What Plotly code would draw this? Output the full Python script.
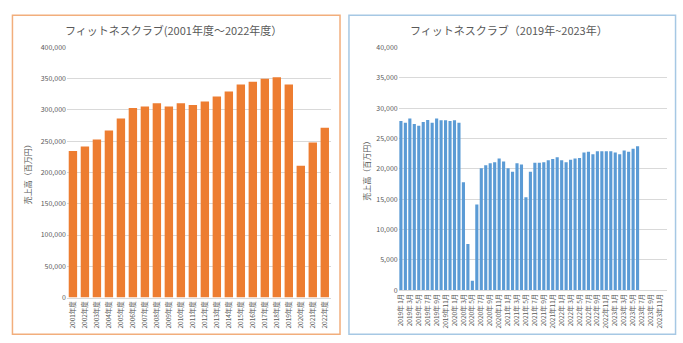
import plotly.graph_objects as go

# Annual sales, fiscal 2001-2022 (million yen)
years = [f"{y}年度" for y in range(2001, 2023)]
annual_sales = [234500, 241700, 252600, 267000, 286200, 303300, 305400, 310600,
                305400, 310600, 308000, 313700, 321400, 329700, 340600, 345200,
                349900, 352500, 340600, 210700, 247900, 271700]

# Monthly sales, Jan 2019 - Dec 2023 (million yen); data available through Jun 2023
months = [f"{y}年{m:>2}月" for y in range(2019, 2024) for m in range(1, 13)]
monthly_sales = [
    27900, 27600, 28300, 27400, 27100, 27700, 28050, 27600, 28300, 28000, 28000, 27900,
    28000, 27600, 17800, 7600, 1550, 14100, 20100, 20600, 20900, 21100, 21700, 21200,
    20100, 19500, 20900, 20700, 15300, 19500, 21000, 21000, 21100, 21400, 21600, 21900,
    21400, 21100, 21500, 21700, 21800, 22700, 22800, 22400, 22900, 22900, 22900, 22900,
    22700, 22400, 23000, 22800, 23300, 23700,
]
month_ticks = months[::2]

TEXT = "#595959"
GRID = "#D9D9D9"
FONT = "Noto Sans CJK JP"
W, H = 683, 343


def px(x):
    return x / W


def py(y):
    return 1 - y / H


# months without data keep their slot on the axis
monthly_padded = monthly_sales + [None] * (len(months) - len(monthly_sales))

fig = go.Figure()
fig.add_trace(go.Bar(x=years, y=annual_sales, marker_color="#ED7D31",
                     marker_line_width=0, xaxis="x", yaxis="y"))
fig.add_trace(go.Bar(x=months, y=monthly_padded, marker_color="#5B9BD5",
                     marker_line_width=0, xaxis="x2", yaxis="y2"))

tick_font = dict(family=FONT, size=7, color=TEXT)
xlab_font = dict(family=FONT, size=6.5, color=TEXT)

fig.update_layout(
    width=W, height=H,
    margin=dict(l=0, r=0, t=0, b=0),
    paper_bgcolor="white", plot_bgcolor="white",
    showlegend=False, bargap=0.3,
    xaxis=dict(domain=[px(63.3), px(328.7)], anchor="y", type="category",
               tickangle=-90, tickfont=xlab_font, showgrid=False,
               showline=True, linecolor=GRID, linewidth=1, ticks=""),
    yaxis=dict(domain=[py(300.3), py(42.7)], anchor="x", range=[0, 400000],
               dtick=50000, tickformat=",", tickfont=tick_font,
               showgrid=True, gridcolor=GRID, gridwidth=1, zeroline=False,
               showline=False, ticks=""),
    xaxis2=dict(domain=[px(397), px(666.5)], anchor="y2", type="category",
                range=[-0.5, len(months) - 0.5],
                tickmode="array", tickvals=month_ticks, ticktext=month_ticks,
                tickangle=-90, tickfont=xlab_font, showgrid=False,
                showline=True, linecolor=GRID, linewidth=1, ticks=""),
    yaxis2=dict(domain=[py(292.7), py(42.7)], anchor="x2", range=[0, 40000],
                dtick=5000, tickformat=",", tickfont=tick_font,
                showgrid=True, gridcolor=GRID, gridwidth=1, zeroline=False,
                showline=False, ticks=""),
)

# panel frames
fig.add_shape(type="rect", xref="paper", yref="paper",
              x0=px(8.5), x1=px(338), y0=py(338), y1=py(9.5),
              line=dict(color="#F2AE7C", width=1.5), fillcolor="rgba(0,0,0,0)")
fig.add_shape(type="rect", xref="paper", yref="paper",
              x0=px(347), x1=px(675.5), y0=py(338), y1=py(9.5),
              line=dict(color="#A6C8E4", width=1.5), fillcolor="rgba(0,0,0,0)")

title_font = dict(family=FONT, size=11, color=TEXT)
fig.add_annotation(text="フィットネスクラブ(2001年度～2022年度）", xref="paper", yref="paper",
                   x=px(170), y=py(24.3), showarrow=False, font=title_font,
                   xanchor="center", yanchor="middle")
fig.add_annotation(text="フィットネスクラブ（2019年~2023年）", xref="paper", yref="paper",
                   x=px(508), y=py(24.3), showarrow=False, font=title_font,
                   xanchor="center", yanchor="middle")

ytitle_font = dict(family=FONT, size=8, color=TEXT)
fig.add_annotation(text="売上高（百万円）", xref="paper", yref="paper",
                   x=px(24), y=py(171.5), showarrow=False, textangle=-90,
                   font=ytitle_font, xanchor="center", yanchor="middle")
fig.add_annotation(text="売上高（百万円）", xref="paper", yref="paper",
                   x=px(365), y=py(167.7), showarrow=False, textangle=-90,
                   font=ytitle_font, xanchor="center", yanchor="middle")

fig.write_html("out.html")
